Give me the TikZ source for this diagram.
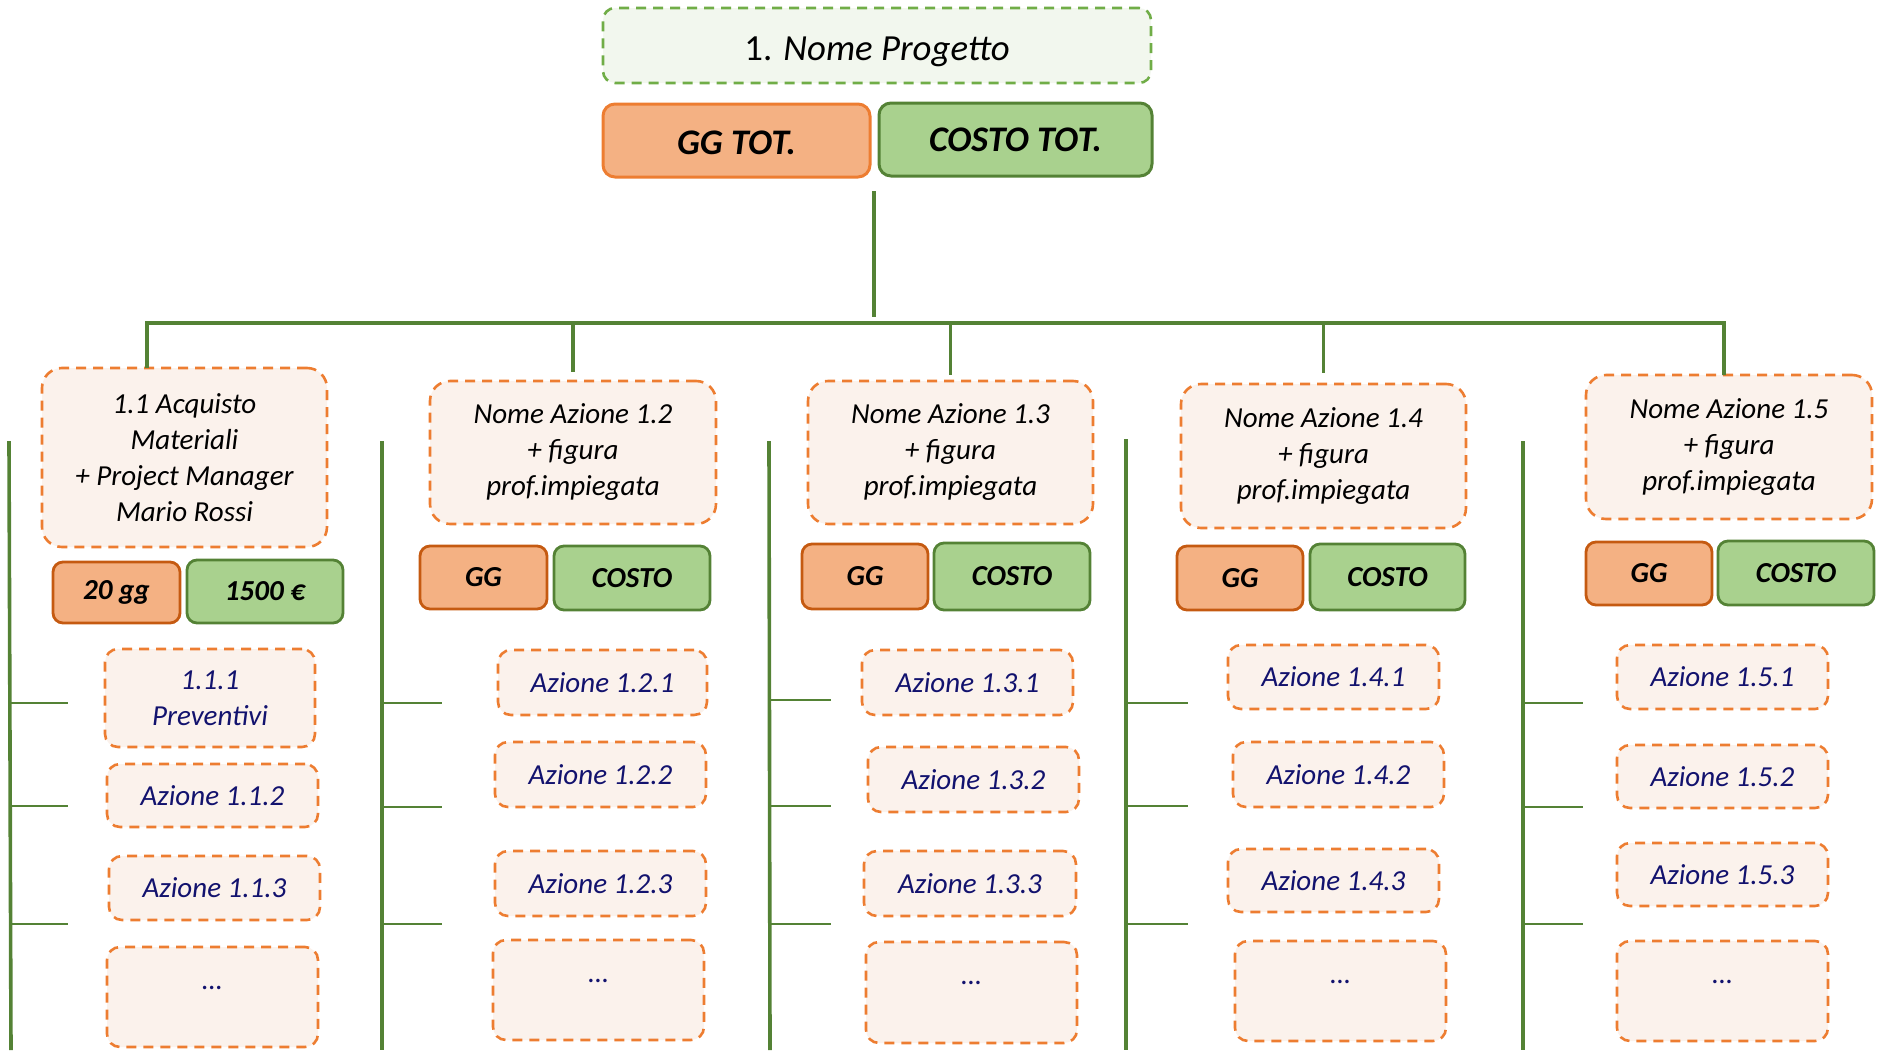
\documentclass[tikz,border=0pt]{standalone}
\usepackage{fontspec}
\setmainfont{Carlito}
\definecolor{lgreen}{HTML}{548235}
\definecolor{oline}{HTML}{ED7D31}
\definecolor{ofill}{HTML}{FBF2EC}
\definecolor{odark}{HTML}{C55A11}
\definecolor{obadge}{HTML}{F4B183}
\definecolor{gbadge}{HTML}{A9D18E}
\definecolor{gtopline}{HTML}{70AD47}
\definecolor{gtopfill}{HTML}{F2F7EE}
\definecolor{navy}{HTML}{12126E}
\newcommand\bx[7]{\node[#2, minimum width={(#5-#3)*0.5pt}, minimum height={(#6-#4)*0.5pt}] (#1) at ({(#3+#5)/2},{(#4+#6)/2}) {#7};}
\newcommand\fsz[2]{\fontsize{#1}{#2}\selectfont}
\newcommand\dotsraised{\raisebox{4pt}[0pt][0pt]{…}}
\newcommand\lowered[2]{\raisebox{-#1}[\height][\depth]{#2}}
\tikzset{
  base/.style={inner sep=0pt, outer sep=0pt, align=center},
  topbox/.style={base, draw=gtopline, fill=gtopfill, line width=1.3pt, dash pattern=on 5pt off 3.5pt, rounded corners=6pt, font=\fsz{18.4}{22}},
  totgg/.style={base, draw=oline, fill=obadge, line width=1.5pt, rounded corners=6pt, font=\bfseries\itshape\fsz{18}{22}},
  totcost/.style={base, draw=lgreen, fill=gbadge, line width=1.5pt, rounded corners=6pt, font=\bfseries\itshape\fsz{18}{22}},
  headbox/.style={base, draw=oline, fill=ofill, line width=1.3pt, dash pattern=on 5pt off 3.5pt, rounded corners=10pt, font=\itshape\fsz{14.5}{18}},
  ggbox/.style={base, draw=odark, fill=obadge, line width=1.4pt, rounded corners=5pt, font=\bfseries\itshape\fsz{14.5}{18}},
  costbox/.style={base, draw=lgreen, fill=gbadge, line width=1.4pt, rounded corners=5pt, font=\bfseries\itshape\fsz{14.5}{18}},
  subbox/.style={base, draw=oline, fill=ofill, line width=1.3pt, dash pattern=on 5pt off 3.5pt, rounded corners=6.5pt, text=navy, font=\itshape\fsz{14.5}{18}},
  conn/.style={draw=lgreen, line width=1.8pt},
  tick/.style={draw=lgreen, line width=1.3pt},
}
\begin{document}
\begin{tikzpicture}[x=0.5pt, y=-0.5pt]
\useasboundingbox (0,0) rectangle (1880,1050);

% top
\bx{top}{topbox}{603}{8}{1151}{83}{\lowered{3pt}{1. \textit{Nome Progetto}}}
\bx{ggtot}{totgg}{603}{104}{870}{177}{\lowered{1pt}{GG TOT.}}
\bx{costtot}{totcost}{879}{103}{1152}{176}{COSTO TOT.}

% column heads
\bx{h1}{headbox}{42}{368}{327}{547}{1.1 Acquisto\\Materiali\\+ Project Manager\\Mario Rossi}
\bx{h2}{headbox}{430}{381}{716}{524}{Nome Azione 1.2\\+ figura\\prof.impiegata}
\bx{h3}{headbox}{808}{381}{1093}{524}{Nome Azione 1.3\\+ figura\\prof.impiegata}
\bx{h4}{headbox}{1181}{384}{1466}{528}{Nome Azione 1.4\\+ figura\\prof.impiegata}
\bx{h5}{headbox}{1586}{375}{1872}{519}{Nome Azione 1.5\\+ figura\\prof.impiegata}

% badges
\bx{g1}{ggbox}{53}{562}{180}{623}{20 gg}
\bx{c1}{costbox}{187}{560}{343}{623}{1500 €}
\bx{g2}{ggbox}{420}{546}{547}{609}{GG}
\bx{c2}{costbox}{554}{546}{710}{610}{COSTO}
\bx{g3}{ggbox}{802}{544}{928}{609}{GG}
\bx{c3}{costbox}{934}{543}{1090}{610}{COSTO}
\bx{g4}{ggbox}{1177}{546}{1303}{610}{GG}
\bx{c4}{costbox}{1310}{544}{1465}{610}{COSTO}
\bx{g5}{ggbox}{1586}{542}{1712}{605}{GG}
\bx{c5}{costbox}{1718}{541}{1874}{605}{COSTO}

% sub actions
\bx{s11}{subbox}{105}{649}{315}{747}{1.1.1\\Preventivi}
\bx{s12}{subbox}{107}{764}{318}{827}{Azione 1.1.2}
\bx{s13}{subbox}{109}{856}{320}{920}{Azione 1.1.3}
\bx{s14}{subbox}{107}{947}{318}{1047}{\dotsraised}

\bx{s21}{subbox}{498}{650}{707}{715}{Azione 1.2.1}
\bx{s22}{subbox}{495}{742}{706}{807}{Azione 1.2.2}
\bx{s23}{subbox}{495}{851}{706}{916}{Azione 1.2.3}
\bx{s24}{subbox}{493}{940}{704}{1040}{\dotsraised}

\bx{s31}{subbox}{862}{650}{1073}{715}{Azione 1.3.1}
\bx{s32}{subbox}{868}{747}{1079}{812}{Azione 1.3.2}
\bx{s33}{subbox}{864}{851}{1076}{916}{Azione 1.3.3}
\bx{s34}{subbox}{866}{942}{1077}{1043}{\dotsraised}

\bx{s41}{subbox}{1228}{645}{1439}{709}{Azione 1.4.1}
\bx{s42}{subbox}{1233}{742}{1444}{807}{Azione 1.4.2}
\bx{s43}{subbox}{1228}{849}{1439}{912}{Azione 1.4.3}
\bx{s44}{subbox}{1235}{941}{1446}{1041}{\dotsraised}

\bx{s51}{subbox}{1617}{645}{1828}{709}{Azione 1.5.1}
\bx{s52}{subbox}{1617}{745}{1828}{808}{Azione 1.5.2}
\bx{s53}{subbox}{1617}{843}{1828}{906}{Azione 1.5.3}
\bx{s54}{subbox}{1617}{941}{1828}{1041}{\dotsraised}

% trunk and bar
\coordinate (trunkT) at (874,191);
\coordinate (trunkB) at (874,317);
\coordinate (barL) at (147,323);
\coordinate (barR) at (1724,323);
\draw[conn] (trunkT) -- (trunkB);
\draw[conn, line cap=rect] (barL) -- (barR);
\draw[conn] (barL) -- (barL |- h1.north);
\draw[conn] (h2.north |- barL) -- ([yshift=4.5pt]h2.north);
\draw[conn] (h3.north |- barL) -- ([yshift=3pt]h3.north);
\draw[conn] (h4.north |- barL) -- ([yshift=5.5pt]h4.north);
\draw[conn] (barR) -- (barR |- h5.north) -- ++(0,-5);

% column side lines
\coordinate (v1t) at (9,441);   \coordinate (v1b) at (11,1050);
\coordinate (v2t) at (382,441); \coordinate (v2b) at (382,1050);
\coordinate (v3t) at (769,441); \coordinate (v3b) at (770,1050);
\coordinate (v4t) at (1126,439);\coordinate (v4b) at (1126,1050);
\coordinate (v5t) at (1523,441);\coordinate (v5b) at (1523,1050);
\foreach \i in {1,...,5} \draw[conn] (v\i t) -- (v\i b);

% ticks
\foreach \x/\e/\a/\b/\c in {10/68/703/806/924, 382/442/703/807/924, 769/831/700/806/924, 1126/1188/703/806/924, 1523/1583/703/807/924}{
  \draw[tick] (\x,\a) -- (\e,\a);
  \draw[tick] (\x,\b) -- (\e,\b);
  \draw[tick] (\x,\c) -- (\e,\c);
}
\end{tikzpicture}
\end{document}
